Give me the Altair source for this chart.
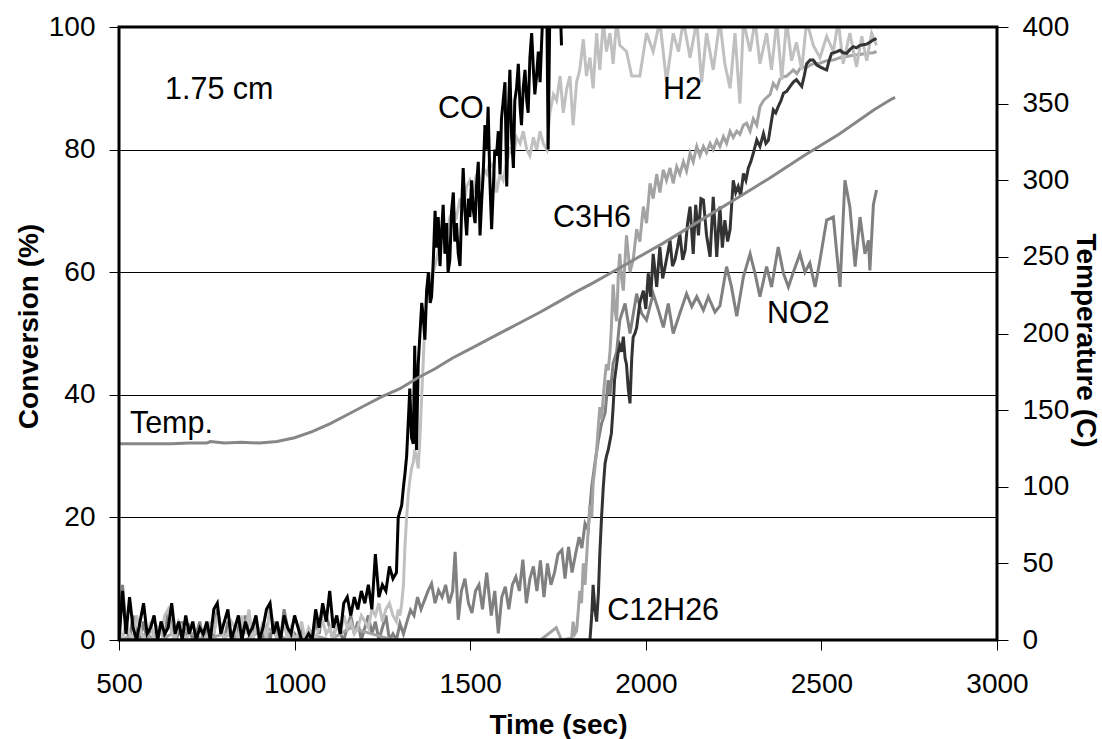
import altair as alt
import pandas as pd

FONT = "Liberation Sans"
W, H = 878, 613

X_TICKS = [500, 1000, 1500, 2000, 2500, 3000]
Y_TICKS = [0, 20, 40, 60, 80, 100]
T_TICKS = [0, 50, 100, 150, 200, 250, 300, 350, 400]

# time grid of the noisy baseline section (s)
BASE_T = [500, 510, 520, 530, 540, 550, 560, 570, 580, 590,
          600, 610, 620, 630, 640, 650, 660, 670, 680, 690,
          700, 710, 720, 730, 740, 750, 760, 770, 780, 790,
          800, 810, 820, 830, 840, 850, 860, 870, 880, 890,
          900, 910, 920, 930, 940, 950, 960, 970, 980, 990,
          1000, 1010, 1020, 1030, 1040, 1050, 1060, 1070, 1080, 1090,
          1100, 1110, 1120, 1130, 1140, 1150, 1160, 1170, 1180, 1190,
          1200, 1210, 1220, 1230, 1240, 1250, 1260, 1270, 1280, 1290]

# ---- CO ----
CO_BASE_V = [0, 8, 1, 7, 2, 0, 3, 6, 1, 2,
             4, 0, 3, 1, 2, 6, 1, 3, 0, 4,
             1, 3, 0, 2, 1, 3, 0, 5, 6, 1,
             3, 5, 0, 2, 4, 0, 3, 1, 2, 4,
             0, 2, 5, 6, 1, 3, 0, 4, 2, 1,
             4, 2, 0, 0, 1, 0, 5, 2, 6, 3,
             8, 2, 4, 1, 6, 7, 4, 7, 5, 8,
             6, 9, 5, 14, 7, 9, 8, 12, 10, 11]
CO_RISE_T = [1295, 1300, 1305, 1310, 1314, 1319, 1324, 1328, 1333, 1338,
             1342, 1347, 1352, 1357, 1362, 1366, 1371, 1376, 1381, 1386,
             1390, 1395, 1400, 1404, 1409, 1414, 1418, 1423, 1428, 1433,
             1437, 1442, 1447, 1452, 1456, 1461, 1466, 1471, 1476, 1480,
             1485, 1490, 1495, 1499, 1504, 1509, 1514, 1518, 1523, 1528,
             1533, 1537, 1542, 1547, 1551, 1556, 1561, 1566, 1570, 1575,
             1580, 1585, 1589, 1594, 1599, 1604, 1608, 1613, 1618, 1623,
             1627, 1632, 1637, 1642, 1646, 1651, 1656, 1661, 1665, 1670,
             1675, 1680, 1684, 1689, 1694, 1699, 1703, 1708, 1713, 1718,
             1722, 1727, 1732, 1737, 1741, 1746, 1751, 1756, 1760]
CO_RISE_V = [20, 21, 22, 25, 27, 30, 36, 41, 33, 32,
             48, 31, 45, 50, 55, 53, 49, 57, 60, 55,
             56, 62, 70, 64, 69, 61, 66, 71, 63, 68,
             60, 62, 70, 73, 65, 68, 63, 61, 71, 77,
             70, 66, 72, 69, 75, 70, 68, 74, 78, 66,
             72, 76, 84, 80, 87, 75, 67, 74, 80, 79,
             83, 76, 85, 88, 91, 74, 85, 93, 82, 77,
             88, 90, 94, 87, 84, 90, 93, 88, 86, 95,
             99, 93, 89, 92, 96, 91, 97, 104, 104, 104,
             80, 104, 104, 104, 104, 104, 104, 104, 97]

# ---- H2 ----
H2_BASE_V = [2, 0, 3, 1, 0, 4, 2, 0, 1, 3,
             0, 2, 1, 4, 5, 1, 0, 3, 2, 0,
             1, 3, 0, 2, 1, 0, 3, 1, 4, 2,
             0, 1, 3, 2, 0, 4, 1, 5, 0, 2,
             1, 3, 0, 6, 2, 0, 1, 3, 0, 2,
             0, 1, 3, 0, 2, 1, 0, 2, 3, 1,
             2, 0, 3, 1, 4, 2, 3, 1, 2, 4,
             3, 2, 5, 4, 6, 3, 5, 6, 4, 3]
H2_RISE_T = [1295, 1300, 1305, 1310, 1314, 1319, 1324, 1328, 1333, 1338,
             1342, 1347, 1352, 1357, 1362, 1366, 1371, 1376, 1381, 1386,
             1390, 1395, 1404, 1414, 1423, 1433, 1442, 1452, 1461, 1471,
             1480, 1490, 1499, 1509, 1518, 1528, 1537, 1547, 1556, 1566,
             1575, 1585, 1594, 1604, 1613, 1623, 1632, 1642, 1651, 1661,
             1670, 1680, 1689, 1699, 1708, 1718, 1727, 1737, 1746, 1756,
             1765, 1775, 1784, 1793, 1803, 1812, 1822, 1831, 1841, 1850,
             1860, 1869, 1879, 1888, 1898, 1907, 1917, 1926, 1945, 1960,
             1983, 2002, 2021, 2040, 2059, 2078, 2093, 2107, 2126, 2145,
             2159, 2173, 2192, 2211, 2225, 2240, 2254, 2268, 2278, 2297,
             2311, 2325, 2344, 2358, 2373, 2387, 2401, 2415, 2429, 2444,
             2458, 2477, 2496, 2515, 2534, 2548, 2562, 2581, 2600, 2615,
             2629, 2643, 2657]
H2_RISE_V = [5, 4, 6, 9, 15, 20, 24, 26, 28, 29,
             31, 30, 28, 33, 40, 45, 52, 57, 58, 60,
             57, 60, 62, 65, 67, 66, 69, 70, 69, 72,
             70, 74, 75, 73, 76, 74, 77, 76, 78, 77,
             73, 76, 75, 78, 80, 79, 82, 81, 83, 80,
             79, 82, 80, 83, 81, 80, 86, 89, 88, 92,
             86, 90, 92, 84, 91, 93, 98, 92, 95, 90,
             99, 93, 101, 96, 99, 94, 101, 97, 96, 92,
             92, 99, 96, 101, 91, 99, 96, 101, 95, 101,
             91, 99, 93, 101, 94, 90, 99, 87.5, 101, 96,
             101, 94, 99, 93, 101, 91.4, 101, 94.5, 97.5, 93,
             101, 97, 95, 98.5, 96, 101, 94, 99, 93.5, 98.5,
             94.5, 99, 97]

# ---- C3H6 ----
C3H6_T = [500, 560, 620, 680, 740, 800, 860, 920, 980, 1040,
          1100, 1160, 1220, 1280, 1340, 1400, 1460, 1520, 1580, 1640,
          1700, 1745, 1760, 1789, 1793, 1798, 1803, 1808, 1812, 1817,
          1822, 1827, 1832, 1836, 1841, 1846, 1850, 1855, 1860, 1865,
          1869, 1874, 1879, 1884, 1888, 1893, 1898, 1902, 1907, 1912,
          1917, 1922, 1926, 1931, 1936, 1945, 1955, 1964, 1974, 1983,
          1993, 2002, 2012, 2021, 2031, 2040, 2050, 2059, 2069, 2078,
          2088, 2097, 2107, 2116, 2126, 2135, 2145, 2154, 2164, 2173,
          2183, 2192, 2202, 2211, 2221, 2230, 2240, 2249, 2259, 2268,
          2278, 2287, 2297, 2306, 2316, 2325, 2335, 2344, 2354, 2363,
          2373, 2382, 2392, 2401, 2411, 2420, 2430, 2439, 2449, 2458,
          2468, 2477, 2496, 2515, 2534, 2553, 2572, 2591, 2610, 2629,
          2648, 2657]
C3H6_V = [0, 1, 0, 2, 0, 1, 0, 2, 0, 1,
          0, 2, 1, 0, 0, 0, 0, 0, 0, 0,
          0, 2, 0, 0.3, 3, 1, 1.5, 5, 8, 6,
          12.5, 9, 14, 18, 22, 20, 25.5, 28, 31, 35,
          38, 36, 39.7, 43, 45, 44, 47, 51, 58, 54,
          52, 60, 63, 59, 57, 66, 60, 62, 67, 65,
          70.7, 68, 74.5, 72, 76, 73, 76.7, 75, 77, 74.5,
          77.2, 76, 78, 76.5, 79.4, 78, 80.5, 79, 80.5, 79.5,
          81, 80, 81.5, 80.5, 82.1, 81, 83, 82, 83, 82.5,
          84, 84.3, 83, 85, 84, 87, 88, 88.5, 89, 90.8,
          90, 91.5, 91.9, 92, 92.5, 93, 92.4, 93.2, 93.5, 93.4,
          93.8, 94, 94.1, 94.5, 94.6, 95, 95.2, 95.4, 95.5, 95.7,
          95.8, 96]

# ---- C12H26 ----
C12_T = [500, 1000, 1500, 1835, 1841, 1846, 1850, 1855, 1860, 1865,
         1869, 1874, 1879, 1884, 1888, 1893, 1898, 1902, 1907, 1911,
         1917, 1921, 1926, 1931, 1936, 1941, 1945, 1950, 1955, 1960,
         1964, 1969, 1974, 1983, 1993, 2000, 2007, 2014, 2021, 2031,
         2040, 2048, 2055, 2062, 2069, 2076, 2083, 2090, 2097, 2105,
         2112, 2119, 2126, 2135, 2142, 2150, 2157, 2164, 2173, 2183,
         2192, 2202, 2211, 2218, 2225, 2233, 2240, 2249, 2256, 2263,
         2270, 2278, 2285, 2292, 2299, 2306, 2316, 2325, 2335, 2342,
         2349, 2356, 2363, 2370, 2377, 2385, 2392, 2401, 2411, 2420,
         2429, 2437, 2444, 2451, 2458, 2468, 2477, 2487, 2496, 2506,
         2515, 2522, 2529, 2541, 2553, 2562, 2572, 2581, 2591, 2600,
         2610, 2619, 2629, 2638, 2648, 2657]
C12_V = [0, 0, 0, 0, 0, 4, 9, 5, 3, 7.6,
         14, 20, 25, 28.8, 30, 31, 32.5, 33.7, 38, 42.4,
         45, 46.8, 48, 47, 49.5, 46, 45, 41, 38.6, 46,
         49.4, 50, 51, 55, 57, 54, 59.8, 56, 63, 57.6,
         64.1, 59, 60.9, 63, 65.2, 61, 62, 64, 66.3, 62,
         63.6, 68, 70.7, 63, 71, 66, 72, 71.8, 66, 62.5,
         72.3, 62.5, 70.7, 64, 68.5, 65, 67, 75, 73, 74,
         72.5, 76.1, 75, 77, 78, 79.4, 81.6, 80.5, 82.6, 81,
         81.5, 84, 86.5, 86, 87, 88, 89.2, 89.5, 90.3, 91,
         91.4, 90.8, 90.3, 92, 94, 94.6, 94.6, 93.8, 93.5, 93.2,
         93, 94.5, 95.7, 95.9, 96.2, 95.8, 95.7, 96.3, 96.8, 96.6,
         97, 97.1, 97.2, 97.5, 97.9, 98.1]

# ---- NO2 ----
NO2_BASE_V = [0, 9, 2, 0, 4, 1, 0, 3, 0, 2,
              1, 0, 3, 0, 5, 2, 0, 1, 3, 0,
              2, 0, 1, 3, 0, 2, 0, 1, 5, 2,
              0, 3, 1, 0, 2, 0, 4, 1, 0, 3,
              1, 0, 2, 0, 3, 1, 0, 5, 2, 0,
              1, 0, 2, 0, 1, 0, 3, 1, 5, 4,
              2, 0, 3, 1, 0, 2, 4, 1, 3, 0,
              2, 4, 1, 3, 0, 2, 4, 0, 1, 0]
NO2_RISE_T = [1300, 1310, 1320, 1330, 1340, 1350, 1360, 1370, 1380, 1390,
              1400, 1410, 1420, 1430, 1440, 1450, 1457, 1466, 1475, 1485,
              1495, 1505, 1515, 1525, 1535, 1547, 1560, 1570, 1580, 1590,
              1600, 1610, 1620, 1630, 1640, 1650, 1660, 1670, 1680, 1690,
              1700, 1710, 1720, 1730, 1740, 1750, 1761, 1770, 1780, 1790,
              1800, 1810, 1818, 1827, 1836, 1846, 1855, 1865, 1874, 1884,
              1893, 1898, 1907, 1917, 1926, 1941, 1955, 1974, 1988, 2002,
              2021, 2036, 2050, 2064, 2078, 2097, 2116, 2131, 2145, 2164,
              2178, 2197, 2211, 2230, 2244, 2259, 2278, 2297, 2311, 2325,
              2344, 2358, 2377, 2392, 2406, 2420, 2439, 2453, 2467, 2482,
              2496, 2515, 2534, 2553, 2567, 2581, 2596, 2610, 2624, 2634,
              2638, 2648, 2657]
NO2_RISE_V = [2.7, 1, 3, 4.9, 4, 7, 5, 6.5, 8, 9.2,
              6, 8.1, 7, 9, 6, 8, 14.4, 3.3, 8, 10,
              6, 4.4, 8, 9, 5, 11, 4, 8, 1.1, 7,
              8.7, 5, 9, 10.3, 8, 13.1, 6, 10, 12, 8,
              13, 7, 12.5, 9, 11, 14, 14.7, 10, 15.2, 11,
              14, 16.8, 15, 19, 18, 25, 28.8, 32.6, 35.3, 37,
              42.4, 40, 45.1, 47, 52.2, 54.9, 50, 56.5, 53.3, 52.2,
              56.5, 53.8, 51, 54.9, 50, 53.3, 56.5, 54.4, 56, 53.8,
              56, 53.5, 54.5, 60.9, 57.6, 52.8, 59.3, 63, 59.8, 56,
              60.9, 57.6, 64.1, 59.8, 57.6, 60, 63, 60, 61.5, 57.6,
              62, 68.5, 69, 57.6, 75, 70.7, 60.9, 69, 63, 65.2,
              60.3, 71, 73.4]

# ---- Temperature (right axis, C) ----
TEMP_T = [500, 550, 600, 650, 700, 750, 760, 800, 850, 900,
          950, 1000, 1050, 1100, 1150, 1200, 1250, 1300, 1350, 1400,
          1450, 1500, 1550, 1600, 1650, 1700, 1750, 1800, 1850, 1900,
          1950, 2000, 2050, 2100, 2150, 2200, 2250, 2300, 2350, 2400,
          2450, 2500, 2550, 2600, 2650, 2700, 2710]
TEMP_V = [128, 128, 128, 128, 128.5, 128.5, 129.5, 128.5, 129, 128.5,
          129.5, 132, 136, 141, 147, 153, 159, 164, 171, 177,
          184, 190, 196, 202, 208, 214, 220.5, 227, 233, 239.5,
          246, 252.5, 259, 266, 273, 280, 287, 294, 301, 308.5,
          316, 323, 330, 338, 346, 353, 354]

# ---- annotations ----
LABELS = ["1.75 cm", "CO", "H2", "C3H6", "NO2", "C12H26", "Temp."]
LABEL_T = [631, 1408, 2049, 1736, 2345, 1890, 531]
LABEL_V = [88.3, 85.2, 88.3, 67.4, 51.7, 3.3, 33.8]


def frame(ts, vs):
    assert len(ts) == len(vs)
    return pd.DataFrame({"t": ts, "v": vs})


x_enc = alt.X(
    "t:Q",
    scale=alt.Scale(domain=[500, 3000], nice=False, zero=False),
    axis=alt.Axis(
        values=X_TICKS, format="d", title="Time (sec)", grid=False, domain=False,
        tickSize=10, tickColor="black", tickWidth=1,
        labelFont=FONT, labelFontSize=28, labelColor="black", labelPadding=20,
        labelFlush=False,
        titleFont=FONT, titleFontSize=28, titleFontWeight="bold", titleColor="black",
        titleY=93, titleBaseline="alphabetic",
    ),
)

y_left = alt.Y(
    "v:Q",
    scale=alt.Scale(domain=[0, 100], nice=False, zero=True),
    axis=alt.Axis(
        values=Y_TICKS, format="d", title="Conversion (%)", grid=True,
        gridColor="black", gridWidth=1, domain=False,
        tickSize=10, tickColor="black", tickWidth=1,
        labelFont=FONT, labelFontSize=28, labelColor="black", labelPadding=14,
        labelFlush=False,
        titleFont=FONT, titleFontSize=28, titleFontWeight="bold", titleColor="black",
        titleAngle=-90, titleX=-82, titleY=299, titleBaseline="alphabetic",
        titleAlign="center",
    ),
)

y_right = alt.Y(
    "v:Q",
    scale=alt.Scale(domain=[0, 400], nice=False, zero=True),
    axis=alt.Axis(
        orient="right", values=T_TICKS, format="d", title="Temperature (C)",
        grid=False, domain=False, tickSize=11, tickColor="black", tickWidth=1,
        labelFont=FONT, labelFontSize=28, labelColor="black", labelPadding=14,
        labelFlush=False,
        titleFont=FONT, titleFontSize=28, titleFontWeight="bold", titleColor="black",
        titleAngle=90, titleX=79, titleY=313, titleBaseline="alphabetic",
        titleAlign="center",
    ),
)

series = [
    ("NO2", BASE_T + NO2_RISE_T, NO2_BASE_V + NO2_RISE_V, "#808080"),
    ("C3H6", C3H6_T, C3H6_V, "#a3a3a3"),
    ("H2", BASE_T + H2_RISE_T, H2_BASE_V + H2_RISE_V, "#c0c0c0"),
    ("C12H26", C12_T, C12_V, "#333333"),
    ("CO", BASE_T + CO_RISE_T, CO_BASE_V + CO_RISE_V, "#000000"),
]

line_layers = []
for name, ts, vs, color in series:
    line_layers.append(
        alt.Chart(frame(ts, vs)).mark_line(color=color, strokeWidth=3, clip=True)
        .encode(x=x_enc, y=y_left)
    )

lab_df = pd.DataFrame({"label": LABELS, "t": LABEL_T, "v": LABEL_V})
text_layer = alt.Chart(lab_df).mark_text(
    font=FONT, fontSize=30.5, align="left", baseline="alphabetic", color="black"
).encode(x=x_enc, y=y_left, text="label:N")

left = alt.layer(*line_layers, text_layer)

temp_layer = alt.Chart(frame(TEMP_T, TEMP_V)).mark_line(
    color="#878787", strokeWidth=3, clip=True
).encode(x=x_enc, y=y_right)

border = alt.Chart(pd.DataFrame({"a": [0]})).mark_rect(
    fillOpacity=0, stroke="black", strokeWidth=3
).encode(x=alt.value(0), x2=alt.value(W), y=alt.value(0), y2=alt.value(H))

chart = (
    alt.layer(left, temp_layer, border)
    .resolve_scale(y="independent")
    .properties(
        width=W, height=H,
        padding={"left": 119, "top": 27, "right": 105, "bottom": 99},
        autosize=alt.AutoSizeParams(type="none"),
        background="white",
    )
    .configure_view(strokeWidth=0)
)

chart.save("out.html", embed_options={"renderer": "svg", "actions": False})
